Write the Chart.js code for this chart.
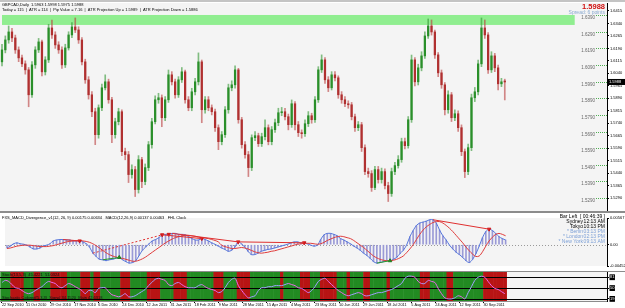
<!DOCTYPE html>
<html>
<head>
<meta charset="utf-8">
<script src="https://cdn.jsdelivr.net/npm/chart.js@4.4.1/dist/chart.umd.min.js"></script>
<style>
  html, body { margin:0; padding:0; background:#fff; width:625px; height:308px; overflow:hidden; }
  #wrap { position:relative; width:625px; height:308px; background:#fff; }
  canvas { position:absolute; left:0; display:block; }
</style>
</head>
<body>
<div id="wrap">
  <canvas id="priceChart" width="625" height="213" style="top:0"></canvas>
  <canvas id="macdChart"  width="625" height="58"  style="top:213px"></canvas>
  <canvas id="stochChart" width="625" height="37"  style="top:271px"></canvas>
</div>
<script>
// ═══════════════════════════════════════════════════
//  GBPCAD DAILY — CANDLES + MACD DIVERGENCE + STOCH
// ═══════════════════════════════════════════════════

// ── DADOS: preços em pontos (×10000) ──────────────
const opens = [16109,16181,16241,16289,16253,16181,16133,16097,16061,15911,
  16091,16181,16229,16049,16121,16313,16271,16211,16181,16091,
  16193,16271,16319,16301,16241,16109,16001,15911,15809,15671,
  15833,15953,15989,15881,15671,15749,15809,15569,15551,15431,
  15461,15341,15521,15389,15473,15611,15749,15881,15893,15773,
  15881,16031,15989,15911,16001,16049,15881,15833,15929,15989,
  16109,15821,15881,15833,15809,15713,15629,15671,15821,15953,
  15971,16061,15761,15611,15551,15473,15653,15665,15617,15659,
  15713,15629,15701,15743,15803,15809,15779,15731,15857,15731,
  15683,15677,15737,15785,15761,15881,16061,16121,16001,15953,
  16031,16013,15911,15881,15857,15851,15779,15713,15731,15593,
  15449,15437,15353,15461,15401,15449,15365,15317,15449,15485,
  15521,15629,15605,15761,16121,15989,16073,16145,16265,16325,
  16289,16151,16043,15971,15821,15911,15773,15797,15713,15569,
  15449,15593,15893,15929,16097,16313,16271,16061,16145,16073,
  15977,15989];

const highs = [16215,16265,16325,16311,16270,16199,16150,16115,16075,16110,
  16200,16250,16240,16140,16335,16361,16290,16230,16200,16215,
  16290,16345,16373,16320,16255,16125,16020,15930,15830,15850,
  15975,16031,16005,15895,15770,15830,15820,15590,15570,15490,
  15480,15545,15535,15495,15630,15770,15905,15920,15910,15900,
  16060,16050,16005,16020,16075,16060,15900,15950,16010,16163,
  16120,15900,15900,15850,15825,15730,15690,15840,15975,15995,
  16085,16070,15775,15630,15570,15670,15690,15680,15680,15760,
  15730,15720,15765,15830,15835,15830,15795,15880,15870,15750,
  15700,15760,15810,15800,15900,16080,16151,16135,16020,16050,
  16050,16025,15930,15900,15875,15865,15795,15750,15745,15610,
  15470,15455,15480,15480,15470,15465,15385,15470,15505,15545,
  15650,15650,15780,16150,16135,16095,16170,16290,16367,16361,
  16300,16165,16060,15985,15935,15925,15820,15815,15730,15585,
  15615,15915,15955,16120,16373,16361,16285,16170,16160,16090,
  16010,16005];

const lows = [16085,16163,16221,16230,16160,16110,16080,16035,15839,15895,
  16070,16165,16025,16030,16105,16250,16190,16160,16070,16075,
  16180,16255,16285,16220,16090,15980,15885,15780,15611,15650,
  15815,15940,15860,15623,15650,15730,15545,15520,15383,15410,
  15299,15320,15353,15370,15455,15590,15735,15860,15719,15755,
  15865,15970,15890,15895,15985,15860,15815,15815,15910,15970,
  15743,15800,15815,15790,15690,15581,15610,15655,15800,15935,
  15950,15740,15590,15530,15419,15455,15635,15600,15600,15640,
  15610,15610,15685,15725,15785,15760,15700,15715,15700,15660,
  15650,15660,15720,15740,15745,15865,16045,15980,15930,15940,
  15995,15890,15860,15840,15830,15760,15690,15695,15570,15430,
  15415,15330,15340,15380,15380,15345,15269,15300,15430,15470,
  15505,15585,15590,15745,15965,15970,16055,16130,16250,16270,
  16130,16020,15950,15790,15800,15750,15755,15690,15545,15413,
  15430,15575,15870,15910,16080,16250,16040,16045,16050,15940,
  15960,15880];

const closes = [16181,16241,16289,16253,16181,16133,16097,16061,15911,16091,
  16181,16229,16049,16121,16313,16271,16211,16181,16091,16193,
  16271,16319,16301,16241,16109,16001,15911,15809,15671,15833,
  15953,15989,15881,15671,15749,15809,15569,15551,15431,15461,
  15341,15521,15389,15473,15611,15749,15881,15893,15773,15881,
  16031,15989,15911,16001,16049,15881,15833,15929,15989,16109,
  15821,15881,15833,15809,15713,15629,15671,15821,15953,15971,
  16061,15761,15611,15551,15473,15653,15665,15617,15659,15713,
  15629,15701,15743,15803,15809,15779,15731,15857,15731,15683,
  15677,15737,15785,15761,15881,16061,16121,16001,15953,16031,
  16013,15911,15881,15857,15851,15779,15713,15731,15593,15449,
  15437,15353,15461,15401,15449,15365,15317,15449,15485,15521,
  15629,15605,15761,16121,15989,16073,16145,16265,16325,16289,
  16151,16043,15971,15821,15911,15773,15797,15713,15569,15449,
  15593,15893,15929,16097,16313,16271,16061,16145,16073,15977,
  15989,15988];

// ── MACD (×0.0001) ────────────────────────────────
const macdHist = [-7,-3,2,4,2,1,-1,-5,-9,-9,
  -7,-3,-1,2,8,10,11,11,10,10,
  8,8,8,6,2,-5,-18,-25,-31,-32,
  -34,-32,-31,-29,-27,-32,-36,-39,-38,-34,
  -23,-12,-5,2,8,11,15,21,22,22,
  24,24,22,22,21,17,13,10,10,13,
  11,8,4,1,-3,-7,-10,-14,-12,-5,
  6,2,-5,-14,-21,-21,-18,-14,-12,-10,
  -9,-7,-5,-3,-1,1,4,6,6,4,
  4,2,-1,-3,-1,11,21,24,24,22,
  19,13,10,6,2,-3,-7,-12,-18,-23,
  -29,-36,-39,-38,-36,-34,-34,-31,-27,-19,
  -12,-1,17,30,41,46,48,50,53,53,
  46,31,19,10,-1,-9,-16,-21,-27,-34,
  -38,-31,-19,-3,15,28,33,30,24,17,
  13,10];

const macdSignal = [-8,-7,-5,-3,-2,-1,-1,-1,-2,-3,
  -4,-4,-4,-3,-2,0,2,4,6,7,
  8,8,9,8,7,5,2,-2,-7,-12,
  -17,-21,-24,-26,-28,-29,-31,-33,-35,-35,
  -33,-30,-26,-21,-16,-11,-6,-1,4,8,
  12,15,17,19,20,20,19,18,16,15,
  14,13,11,9,6,-1,-4,-6,-8,-8,
  -7,-6,-7,-9,-12,-15,-17,-18,-17,-16,
  -14,-13,-11,-9,-7,-5,-3,-1,1,2,
  3,3,3,2,1,2,5,9,12,15,
  17,18,17,15,13,9,4,-1,-6,-12,
  -18,-24,-28,-31,-33,-34,-34,-33,-31,-28,
  -24,-17,-9,0,11,22,31,38,43,47,
  49,49,46,41,35,28,20,12,4,-5,
  -13,-20,-25,-24,-15,-3,8,16,22,24,
  22,19];

// divergências: pares [barra inicial, barra final]
const divRed    = [[17,22],[47,59],[50,70],[70,90],[129,146]];
const divDashed = [[26,47]];
const divGreen  = [[29,34],[112,116]];
const arrowsDown = [22,47,49,59,70,90,146];
const arrowsUp   = [34,116];

// ── STOCH ─────────────────────────────────────────
const stochMain = [66,72,69,60,51,49,43,37,34,37,
  43,49,54,63,69,66,63,54,51,57,
  63,60,54,49,43,34,43,43,37,49,
  51,51,40,31,28,25,28,34,25,25,
  28,34,40,46,57,66,75,78,75,72,
  60,57,63,66,60,54,51,51,51,57,
  60,54,49,46,43,37,40,51,66,75,
  78,57,43,31,22,25,28,43,51,51,
  54,54,57,57,57,60,63,60,57,51,
  49,43,37,43,54,69,75,78,69,60,
  51,43,37,31,28,31,34,37,34,28,
  28,31,34,37,37,40,43,46,51,57,
  63,78,84,84,81,69,63,63,72,69,
  66,49,34,22,19,19,22,28,25,19,
  37,54,72,81,84,81,69,57,49,46,
  40,34];

// G = verde, R = vermelho (uma letra por barra)
const stochZones = ['GGG','RRRR','GGG','RR','GGG','RRRRR','GGGG','RRR','G','RR',
  'GGGGGG','RRR','GGGGG','RRRR','GGGG','RRRR','GGGGGGGG','RRR','GGGG','RRRR',
  'GGGGGGGGG','R','GGGGG','RRR','GGG','RRRRR','GGG','R','GGGG','RR',
  'GGGGG','R','GGGGGGGGG','RRR','GGGGG','RR','GGGGGGGGG','RRRRRRR'].join('');
const stochLevels = [81, 50, 19];

// ── EIXOS / RÓTULOS ───────────────────────────────
const dateLabels = ['22 Sep 2010','11 Oct 2010','29 Oct 2010','17 Nov 2010','6 Dec 2010',
  '24 Dec 2010','12 Jan 2011','31 Jan 2011','18 Feb 2011','9 Mar 2011','28 Mar 2011',
  '15 Apr 2011','4 May 2011','23 May 2011','10 Jun 2011','29 Jun 2011','18 Jul 2011',
  '5 Aug 2011','24 Aug 2011','12 Sep 2011','30 Sep 2011'];
const priceTicks = [1.6415,1.6340,1.6265,1.6190,1.6115,1.6040,1.5965,1.5890,
  1.5815,1.5740,1.5665,1.5590,1.5515,1.5440,1.5365,1.5290];
const roundLevels = [1.6390,1.6290,1.6190,1.6090,1.5990,1.5890,
  1.5790,1.5690,1.5590,1.5490,1.5390,1.5290];
const macdTicks = [0.00567, 0, -0.00452];

const lastPrice = 1.5988;
const zoneTop = 1.6391, zoneBottom = 1.6331, zoneEndBar = 172;

// ── LAYOUT ────────────────────────────────────────
const FONT = '"Liberation Sans"';
const X_MIN = -0.6, X_MAX = 181.7;
const AXIS_W = 18;
const DATE_STEP = 7.23;
const PRICE_MIN = 1.5212, PRICE_MAX = 1.6463;
const PLOT_BG = '#f4f4f4';

function txt(ctx, s, x, y, color, size, align = 'left', weight = 'normal') {
  ctx.font = `${weight} ${size}px ${FONT}`;
  ctx.fillStyle = color;
  ctx.textAlign = align;
  ctx.textBaseline = 'middle';
  ctx.fillText(s, x, y);
}

const bgPlugin = {
  id: 'bg',
  beforeDraw(chart) {
    const { ctx, chartArea: a, width, height } = chart;
    ctx.save();
    ctx.fillStyle = '#fff';
    ctx.fillRect(0, 0, width, height);
    ctx.fillStyle = PLOT_BG;
    ctx.fillRect(a.left, a.top, a.right - a.left, a.bottom - a.top);
    ctx.restore();
  }
};

function rightAxis(min, max, tickValues, fmt, extraTicks) {
  return {
    position: 'right', min, max,
    grid: { display: true, drawOnChartArea: false, drawTicks: true, tickLength: 2, color: '#000' },
    border: { display: true, color: '#000', width: 1 },
    ticks: Object.assign({ font: { family: FONT, size: 4 }, color: '#000', padding: 1,
      autoSkip: false, callback: fmt }, extraTicks || {}),
    afterBuildTicks: s => { s.ticks = tickValues.map(v => ({ value: v })); },
    afterFit: s => { s.width = AXIS_W; s.paddingTop = 0; s.paddingBottom = 0; },
  };
}

const hiddenX = { type: 'linear', min: X_MIN, max: X_MAX, offset: false, display: false };
const baseOpts = {
  responsive: false, animation: false,
  plugins: { legend: { display: false }, tooltip: { enabled: false } },
};

// ── GRÁFICO DE PREÇO ──────────────────────────────
const isUp = i => closes[i] >= opens[i];

const priceDecor = {
  id: 'priceDecor',
  beforeDatasetsDraw(chart) {
    const { ctx, scales: { x, y }, chartArea: a } = chart;
    ctx.save();
    ctx.fillStyle = '#90ee90';
    const top = y.getPixelForValue(zoneTop), bot = y.getPixelForValue(zoneBottom);
    ctx.fillRect(a.left + 2, top, x.getPixelForValue(zoneEndBar) - a.left - 2, bot - top);
    ctx.restore();
  },
  afterDraw(chart) {
    const { ctx, scales: { y }, chartArea: a, width } = chart;
    ctx.save();
    // níveis redondos
    roundLevels.forEach(v => {
      const py = Math.round(y.getPixelForValue(v)) + 0.5;
      ctx.strokeStyle = '#4caf50';
      ctx.setLineDash([1, 1]);
      ctx.lineWidth = 1;
      ctx.beginPath(); ctx.moveTo(a.right - 11, py); ctx.lineTo(a.right, py); ctx.stroke();
      txt(ctx, v.toFixed(4), a.right - 12, py + 2, '#666', 4.5, 'right');
    });
    ctx.setLineDash([]);
    // borda superior e separador
    ctx.fillStyle = '#c4c4c4';
    ctx.fillRect(0, 0, width, 2);
    ctx.fillStyle = '#8c8c8c';
    ctx.fillRect(0, a.bottom, width, 2);
    // cabeçalho
    txt(ctx, 'GBPCAD,Daily  1.5963 1.5998 1.5975 1.5988', 2, 4.5, '#000', 4);
    txt(ctx, 'Today = 115  |  ATR = 114  |  Pip Value = 7.16  |  ATR Projection Up = 1.5989  |  ATR Projection Down = 1.5886',
      2, 9.5, '#000', 4);
    txt(ctx, '1.5988', a.right - 2, 6.5, '#d01010', 7.5, 'right', 'bold');
    txt(ctx, 'Spread: 6 points', a.right - 2, 13, '#8aaad0', 5, 'right');
    // caixa do preço atual
    const py = y.getPixelForValue(lastPrice);
    ctx.fillStyle = '#000';
    ctx.fillRect(a.right + 1, py - 3, width - a.right - 1, 6);
    txt(ctx, lastPrice.toFixed(4), a.right + 2, py, '#fff', 4);
    ctx.restore();
  }
};

new Chart(document.getElementById('priceChart'), {
  type: 'bar',
  data: {
    datasets: [
      {
        label: 'wick',
        data: closes.map((c, i) => ({ x: i, y: [lows[i] / 1e4, highs[i] / 1e4] })),
        backgroundColor: closes.map((c, i) => isUp(i) ? 'rgba(50,150,50,0.6)' : 'rgba(185,60,60,0.6)'),
        barThickness: 1, grouped: false, order: 2,
      },
      {
        label: 'body',
        data: closes.map((c, i) => ({ x: i, y: [opens[i] / 1e4, c / 1e4] })),
        backgroundColor: closes.map((c, i) => isUp(i) ? '#2a8f2a' : '#b03030'),
        barThickness: 1.6, minBarLength: 1, grouped: false, order: 1,
      },
    ],
  },
  options: {
    ...baseOpts,
    layout: { padding: { top: 3, bottom: 2, left: 0, right: 0 } },
    scales: {
      x: hiddenX,
      y: rightAxis(PRICE_MIN, PRICE_MAX, priceTicks, v => v.toFixed(4)),
    },
  },
  plugins: [bgPlugin, priceDecor],
});

// ── MACD ──────────────────────────────────────────
const macdPt = i => ({ x: i, y: macdHist[i] / 1e4 });
const segDatasets = (pairs, color, dash) => pairs.map(([a, b]) => ({
  type: 'line', data: [macdPt(a), macdPt(b)], borderColor: color, borderWidth: 1,
  borderDash: dash || [], pointRadius: 0, order: 0,
}));

const macdDecor = {
  id: 'macdDecor',
  beforeDatasetsDraw(chart) {
    const { ctx, scales: { y }, chartArea: a } = chart;
    const py = Math.round(y.getPixelForValue(0)) + 0.5;
    ctx.save();
    ctx.strokeStyle = '#9a9a9a';
    ctx.setLineDash([1, 2]);
    ctx.beginPath(); ctx.moveTo(a.left, py); ctx.lineTo(a.right, py); ctx.stroke();
    ctx.restore();
  },
  afterDraw(chart) {
    const { ctx } = chart;
    ctx.save();
    txt(ctx, 'FXS_MACD_Divergence_v1(12, 26, 9) 0.00175 0.00634   MACD(12,26,9) 0.00137 0.00463   FHL Clock',
      2, 4.5, '#000', 4);
    txt(ctx, 'Bar Left  [ 00:46:39 ]', 605, 3.5, '#000', 5, 'right');
    const rows = [
      ['Sydney', '12:13 AM', '#000'],
      ['Tokyo', '10:13 PM', '#000'],
      ['* Berlin', '03:13 PM', '#7b9fd6'],
      ['* London', '02:13 PM', '#7b9fd6'],
      ['* New York', '09:13 AM', '#7b9fd6'],
    ];
    rows.forEach(([city, time, col], k) => {
      txt(ctx, city, 583, 9 + k * 5, col, 5, 'right');
      txt(ctx, time, 605, 9 + k * 5, col, 5, 'right');
    });
    ctx.restore();
  }
};

new Chart(document.getElementById('macdChart'), {
  type: 'bar',
  data: {
    datasets: [
      {
        label: 'hist', data: macdHist.map((v, i) => ({ x: i, y: v / 1e4 })),
        backgroundColor: '#9a9ad6', barThickness: 1, grouped: false, order: 3,
      },
      {
        type: 'line', label: 'macd', data: macdHist.map((v, i) => ({ x: i, y: v / 1e4 })),
        borderColor: '#5577dd', borderWidth: 1, pointRadius: 0, tension: 0.3, order: 2,
      },
      {
        type: 'line', label: 'signal', data: macdSignal.map((v, i) => ({ x: i, y: v / 1e4 })),
        borderColor: '#e03c3c', borderWidth: 1, pointRadius: 0, tension: 0.3, order: 1,
      },
      ...segDatasets(divRed, '#e03030'),
      ...segDatasets(divDashed, '#e03030', [2, 2]),
      ...segDatasets(divGreen, '#2a9a2a'),
      {
        type: 'scatter', data: arrowsDown.map(macdPt), pointStyle: 'triangle', rotation: 180,
        pointRadius: 2, backgroundColor: '#d01818', borderColor: '#d01818', order: 0,
      },
      {
        type: 'scatter', data: arrowsUp.map(macdPt), pointStyle: 'triangle',
        pointRadius: 2, backgroundColor: '#1f7f1f', borderColor: '#1f7f1f', order: 0,
      },
    ],
  },
  options: {
    ...baseOpts,
    layout: { padding: { top: 1, bottom: 0, left: 0, right: 0 } },
    scales: {
      x: hiddenX,
      y: rightAxis(macdTicks[2], macdTicks[0], macdTicks, v => v === 0 ? '0.00' : v.toFixed(5)),
    },
  },
  plugins: [bgPlugin, macdDecor],
});

// ── STOCH ─────────────────────────────────────────
const stochDecor = {
  id: 'stochDecor',
  beforeDatasetsDraw(chart) {
    const { ctx, scales: { x, y }, chartArea: a, width } = chart;
    ctx.save();
    const half = (x.getPixelForValue(1) - x.getPixelForValue(0)) / 2;
    for (let i = 0; i < stochZones.length; i++) {
      ctx.fillStyle = stochZones[i] === 'G' ? '#228b22' : '#b81414';
      const px = x.getPixelForValue(i);
      ctx.fillRect(px - half, a.top, half * 2 + 0.5, a.bottom - a.top);
    }
    ctx.fillStyle = '#000';
    stochLevels.forEach(v => {
      ctx.fillRect(a.left, Math.round(y.getPixelForValue(v)), a.right - a.left, 1);
    });
    ctx.fillStyle = '#8c8c8c';
    ctx.fillRect(0, 0, width, 1);
    ctx.fillRect(0, a.bottom, a.right, 1);
    txt(ctx, 'Stoch(13,5,3)  45.4221  51.0324', 2, 4, '#111', 4);
    txt(ctx, 'Stochastic Colored(5,3,3)  Signal 34.1520  Main 42.6318', 2, 26.5, '#111', 4);
    ctx.restore();
  }
};

new Chart(document.getElementById('stochChart'), {
  type: 'line',
  data: {
    datasets: [{
      data: stochMain.map((v, i) => ({ x: i, y: v })),
      borderWidth: 1, pointRadius: 0, tension: 0.3,
      segment: { borderColor: c => c.p1.parsed.y >= c.p0.parsed.y ? '#a0a0ff' : '#ee66ee' },
    }],
  },
  options: {
    ...baseOpts,
    layout: { padding: { top: 1, bottom: 0, left: 0, right: 0 } },
    scales: {
      x: {
        type: 'linear', min: X_MIN, max: X_MAX, offset: false, position: 'bottom',
        grid: { display: true, drawOnChartArea: false, drawTicks: true, tickLength: 2, color: '#000' },
        border: { display: false },
        ticks: {
          font: { family: FONT, size: 3.8 }, color: '#000', padding: 0, align: 'start',
          autoSkip: false, maxRotation: 0, callback: (v, k) => dateLabels[k],
        },
        afterBuildTicks: s => { s.ticks = dateLabels.map((_, k) => ({ value: k * DATE_STEP })); },
        afterFit: s => { s.height = 7; s.paddingLeft = 0; s.paddingRight = 0; },
      },
      y: rightAxis(13, 96, stochLevels, v => String(v), {
        showLabelBackdrop: true, backdropColor: '#000', backdropPadding: 0.5, color: '#fff',
      }),
    },
  },
  plugins: [bgPlugin, stochDecor],
});
</script>
</body>
</html>
